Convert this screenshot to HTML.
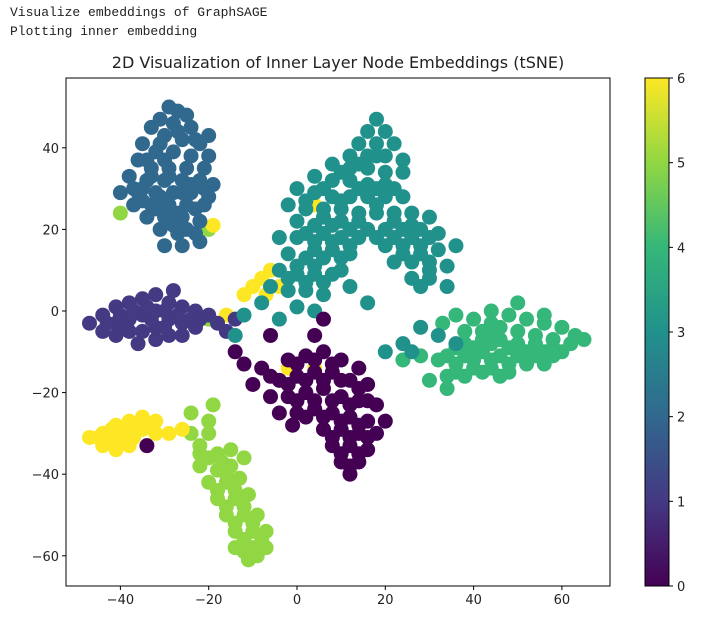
<!DOCTYPE html>
<html><head><meta charset="utf-8"><style>
body{margin:0;background:#fff;width:719px;height:619px;overflow:hidden}
svg{display:block}
.mono{font-family:"Liberation Mono","DejaVu Sans Mono",monospace;font-size:13px;fill:#222}
.t{font-family:"DejaVu Sans","Liberation Sans",sans-serif;font-size:13px;fill:#222}
</style></head><body>
<svg id="c" width="719" height="619">
<defs><linearGradient id="vir" x1="0" y1="1" x2="0" y2="0">
<stop offset="0" stop-color="#440154"/><stop offset="0.167" stop-color="#443983"/><stop offset="0.333" stop-color="#31688e"/><stop offset="0.5" stop-color="#21918c"/><stop offset="0.667" stop-color="#35b779"/><stop offset="0.833" stop-color="#90d743"/><stop offset="1" stop-color="#fde725"/></linearGradient>
<clipPath id="pc"><rect x="66" y="78" width="544" height="508"/></clipPath></defs>
<text class="mono" x="10" y="16">Visualize embeddings of GraphSAGE</text>
<text class="mono" x="10" y="35">Plotting inner embedding</text>
<text class="t" x="338" y="68" text-anchor="middle" style="font-size:16px">2D Visualization of Inner Layer Node Embeddings (tSNE)</text>
<g id="pts" clip-path="url(#pc)"></g>
<rect x="66" y="78" width="544" height="508" fill="none" stroke="#000" stroke-width="1"/>
<g id="ax"></g>
<rect x="645" y="78" width="24" height="508" fill="url(#vir)" stroke="#000" stroke-width="1"/>
</svg>
<script>
const xTicks=[-40,-20,0,20,40,60];
const yTicks=[40,20,0,-20,-40,-60];
const cbTicks=[0,1,2,3,4,5,6];
const colors=["#440154","#443983","#31688e","#21918c","#35b779","#90d743","#fde725"];
const c2=[[-29,50],[-27,49],[-25,48],[-31,47],[-28,46],[-24,45],[-33,45],[-30,43],[-26,42],[-22,41],[-35,41],[-32,39],[-28,39],[-24,38],[-20,38],[-36,37],[-33,35],[-29,35],[-25,35],[-21,35],[-38,33],[-34,32],[-30,32],[-26,32],[-22,32],[-19,31],[-40,29],[-36,29],[-32,29],[-28,29],[-24,29],[-20,28],[-37,26],[-33,26],[-29,26],[-25,26],[-21,26],[-34,23],[-30,23],[-26,23],[-22,22],[-31,20],[-27,19],[-23,19],[-30,16],[-26,16],[-22,17],[-34,37],[-30,37],[-26,29],[-20,43],[-35,30],[-31,41],[-27,44],[-23,42],[-29,33],[-24,31],[-31,28],[-35,27],[-27,24],[-23,25],[-28,21],[-33,33],[-37,30],[-21,30],[-25,20],[-32,25]];
const c1=[[-47,-3],[-44,-1],[-44,-5],[-41,1],[-41,-3],[-41,-6],[-38,2],[-38,-2],[-38,-5],[-35,3],[-35,-1],[-35,-5],[-32,4],[-32,0],[-32,-4],[-32,-7],[-29,2],[-29,-2],[-29,-6],[-26,1],[-26,-3],[-26,-6],[-23,0],[-23,-4],[-20,-1],[-18,-3],[-16,-5],[-36,-8],[-28,5],[-14,-2],[-43,-3],[-40,-1],[-37,0],[-34,1],[-30,0],[-27,-1],[-24,-2],[-33,-2],[-39,-4],[-30,-4],[-22,-2]];
const c3=[[18,47],[16,44],[20,44],[14,41],[18,41],[22,41],[12,38],[16,38],[20,38],[24,37],[8,36],[12,35],[16,35],[20,34],[24,34],[4,33],[8,32],[12,32],[16,31],[20,31],[0,30],[4,29],[8,28],[12,28],[16,28],[20,28],[24,28],[-2,26],[2,25],[6,25],[10,25],[14,24],[18,24],[22,24],[26,24],[30,23],[0,22],[4,21],[8,21],[12,20],[16,20],[20,20],[24,20],[28,20],[32,19],[-4,18],[0,18],[4,17],[8,17],[12,16],[20,16],[24,16],[28,16],[32,15],[36,16],[-2,14],[2,13],[6,13],[10,13],[22,12],[26,12],[30,12],[34,11],[-4,10],[0,9],[4,9],[8,9],[26,8],[30,8],[34,6],[-6,6],[-2,5],[2,5],[6,4],[0,1],[4,0],[-8,2],[12,6],[16,2],[-4,-2],[28,-4],[24,-8],[20,-10],[32,-6],[36,-8],[26,-10],[-12,-1],[-14,-6],[18,38],[14,36],[10,34],[6,30],[14,30],[18,30],[22,30],[2,27],[10,27],[18,26],[6,23],[10,22],[14,22],[22,22],[26,21],[2,19],[6,19],[10,18],[14,18],[18,18],[22,18],[26,18],[30,18],[4,15],[8,15],[12,14],[24,14],[28,14],[0,11],[4,11],[2,7],[6,7],[10,10],[-2,8],[30,10],[28,6]];
const c4=[[33,-3],[36,-1],[40,-2],[44,0],[48,-1],[52,-2],[56,-3],[60,-4],[63,-6],[38,-5],[42,-5],[46,-4],[50,-5],[54,-6],[58,-7],[62,-8],[65,-7],[36,-9],[40,-9],[44,-8],[48,-9],[52,-10],[56,-10],[60,-10],[32,-12],[36,-13],[40,-12],[44,-12],[48,-13],[52,-13],[56,-13],[34,-16],[38,-16],[42,-15],[46,-16],[30,-17],[34,-19],[28,-11],[24,-12],[44,-3],[56,-1],[50,2],[44,-6],[38,-11],[42,-10],[46,-11],[50,-11],[54,-11],[58,-11],[34,-11],[40,-14],[44,-14],[48,-15],[46,-7],[50,-8],[54,-8],[58,-9],[42,-7],[38,-8],[36,-15]];
const c0=[[-2,-12],[2,-11],[6,-10],[10,-12],[14,-14],[-4,-17],[0,-16],[4,-15],[8,-15],[12,-17],[16,-18],[-6,-21],[-2,-21],[2,-20],[6,-19],[10,-21],[14,-22],[18,-23],[-4,-25],[0,-25],[4,-24],[8,-25],[12,-26],[16,-27],[6,-29],[10,-29],[14,-30],[18,-30],[8,-33],[12,-33],[16,-34],[10,-37],[14,-37],[12,-40],[-8,-14],[-12,-13],[-14,-10],[-10,-18],[4,-6],[-6,-6],[20,-27],[6,-2],[-1,-28],[-34,-33],[0,-13],[4,-12],[8,-13],[-2,-18],[2,-17],[6,-17],[10,-17],[14,-19],[0,-22],[4,-22],[8,-22],[12,-23],[2,-26],[6,-26],[10,-27],[14,-28],[8,-31],[12,-31],[16,-31],[10,-35],[14,-35],[12,-38],[-6,-16],[16,-22]];
const c6=[[-47,-31],[-44,-30],[-44,-33],[-41,-28],[-41,-31],[-41,-34],[-38,-27],[-38,-30],[-38,-33],[-35,-26],[-35,-29],[-32,-27],[-32,-30],[-29,-30],[-26,-29],[-8,8],[-6,10],[-10,6],[-4,6],[-12,4],[-7,4],[-16,-1],[-2,-14],[4,-14],[-19,21],[4,26],[-45,-31],[-42,-29],[-39,-29],[-36,-28],[-33,-28],[-40,-32],[-37,-31],[-43,-32]];
const c5=[[-24,-30],[-22,-33],[-20,-30],[-18,-35],[-22,-38],[-18,-39],[-15,-38],[-20,-42],[-16,-42],[-13,-41],[-18,-46],[-14,-46],[-11,-45],[-16,-50],[-12,-50],[-9,-50],[-14,-54],[-10,-54],[-7,-54],[-14,-58],[-10,-58],[-7,-58],[-11,-61],[-15,-34],[-24,-25],[-19,-23],[-40,24],[-20,-27],[-12,-36],[-20,-2],[-20,20],[-20,-36],[-16,-40],[-18,-44],[-14,-44],[-16,-48],[-12,-48],[-14,-52],[-10,-52],[-12,-56],[-8,-56],[-12,-59],[-9,-60],[-22,-35],[-17,-37]];
const X=v=>297+v*4.415, Y=v=>311-v*4.08, CB=v=>586-v*(508/6);
const NS="http://www.w3.org/2000/svg";
const pts=document.getElementById('pts'), ax=document.getElementById('ax');
const groups=[[c5,5],[c6,6],[c1,1],[c2,2],[c4,4],[c3,3],[c0,0]];
groups.forEach(([arr,k])=>arr.forEach(p=>{
 const e=document.createElementNS(NS,'circle');
 e.setAttribute('cx',X(p[0]));e.setAttribute('cy',Y(p[1]));e.setAttribute('r',7.5);e.setAttribute('fill',colors[k]);
 
 
 pts.appendChild(e);}));
function line(x1,y1,x2,y2){const l=document.createElementNS(NS,'line');l.setAttribute('x1',x1);l.setAttribute('y1',y1);l.setAttribute('x2',x2);l.setAttribute('y2',y2);l.setAttribute('stroke','#000');ax.appendChild(l);return l;}
function txt(x,y,s,a){const t=document.createElementNS(NS,'text');t.setAttribute('x',x);t.setAttribute('y',y);t.setAttribute('class','t');t.setAttribute('text-anchor',a);t.textContent=s;ax.appendChild(t);return t;}
xTicks.forEach(v=>{line(X(v),586,X(v),590);const t=txt(X(v),604,String(v).replace('-','\u2212'),'middle');
 
 });
yTicks.forEach(v=>{line(62,Y(v),66,Y(v));const t=txt(59,Y(v)+5,String(v).replace('-','\u2212'),'end');
 
 });
cbTicks.forEach(v=>{line(669,CB(v),673,CB(v));const t=txt(677,CB(v)+5,String(v),'start');
 
 });
</script>
</body></html>
